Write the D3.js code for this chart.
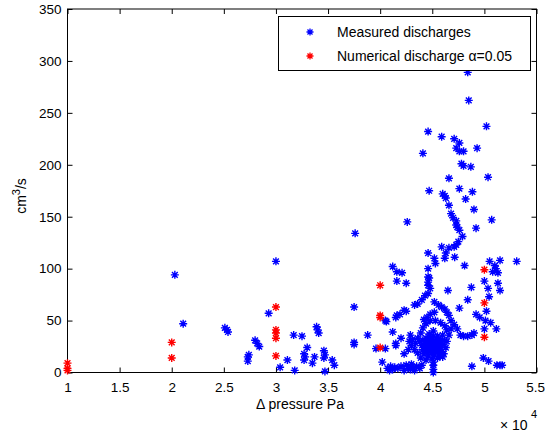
<!DOCTYPE html>
<html>
<head>
<meta charset="utf-8">
<script src="https://cdn.jsdelivr.net/npm/d3@7"></script>
<style>
  body { margin: 0; background: #fff; }
  svg { display: block; }
  text { font-family: "Liberation Sans", Arial, sans-serif; fill: #000; }
</style>
</head>
<body>
<svg id="chart" width="545" height="432"></svg>
<script>
// tick labels (x in units of 10^4 Pa)
const xTicks = [1, 1.5, 2, 2.5, 3, 3.5, 4, 4.5, 5, 5.5];
const yTicks = [0, 50, 100, 150, 200, 250, 300, 350];

// numerical discharge, alpha = 0.05  [pressure x1e4 Pa, cm3/s]
const numerical = [
  [1, 9], [1, 4], [1, 2],
  [2, 29], [2, 14],
  [3, 63], [3, 41], [3, 38], [3, 33], [3, 16],
  [4, 84], [4, 55], [4, 53], [4, 24],
  [5, 99], [5, 67], [5, 34]
];

// measured discharges [pressure x1e4 Pa, cm3/s]
const measured = [
  [2.03, 94], [2.11, 47],
  [2.51, 43], [2.53, 41], [2.54, 39],
  [2.73, 15], [2.73, 11], [2.74, 17],
  [2.80, 31], [2.82, 28], [2.84, 25],
  [2.93, 57], [3.00, 107],
  [3.04, 5], [3.11, 12], [3.18, 2],
  [3.17, 36], [3.25, 35],
  [3.30, 24], [3.27, 18], [3.28, 15], [3.27, 12], [3.35, 9], [3.37, 15],
  [3.39, 44], [3.40, 41], [3.41, 38],
  [3.46, 21], [3.47, 17], [3.46, 14], [3.47, 1],
  [3.54, 12], [3.56, 7],
  [3.75, 29], [3.75, 27], [3.75, 63], [3.76, 134],
  [3.88, 36], [3.96, 23],
  // low strip 4.0 - 4.5
  [4.02, 10], [4.05, 23], [4.05, 50], [4.07, 4], [4.09, 2], [4.10, 6], [4.12, 3],
  [4.14, 5], [4.17, 4], [4.20, 6], [4.23, 2], [4.25, 7], [4.27, 4], [4.29, 3],
  [4.30, 8], [4.32, 5], [4.33, 2], [4.35, 6], [4.38, 4], [4.40, 7],
  [4.51, 0], [4.51, 3], [4.51, 7], [4.51, 10],
  // left cluster near 4.1 - 4.3
  [4.12, 102], [4.16, 97], [4.16, 88], [4.25, 86], [4.26, 145],
  [4.12, 39], [4.15, 53], [4.16, 55], [4.19, 56], [4.23, 60], [4.25, 59],
  [4.06, 49], [4.15, 28], [4.20, 33], [4.23, 18], [4.15, 26],
  [4.33, 65], [4.36, 66], [4.40, 70], [4.43, 74], [4.46, 76], [4.48, 81],
  [4.47, 91], [4.46, 84], [4.65, 79],
  [4.28, 30], [4.30, 26], [4.31, 32], [4.27, 22], [4.29, 36],
  // dense blob 4.35 - 4.7
  [4.38, 30], [4.40, 26], [4.41, 22], [4.42, 18], [4.43, 28], [4.44, 33],
  [4.44, 24], [4.45, 20], [4.46, 16], [4.47, 29], [4.47, 37], [4.48, 23],
  [4.49, 19], [4.50, 32], [4.50, 26], [4.51, 40], [4.51, 22], [4.52, 17],
  [4.53, 30], [4.54, 25], [4.55, 35], [4.55, 20], [4.56, 28], [4.57, 16],
  [4.58, 32], [4.58, 24], [4.59, 20], [4.60, 36], [4.60, 27], [4.61, 18],
  [4.62, 31], [4.63, 24], [4.64, 41], [4.62, 45], [4.58, 48], [4.53, 50],
  [4.48, 50], [4.44, 47], [4.41, 43], [4.39, 38], [4.36, 33], [4.34, 28],
  [4.33, 22], [4.36, 19], [4.39, 14], [4.44, 12], [4.50, 13], [4.55, 14],
  [4.60, 15], [4.64, 30], [4.66, 36], [4.68, 42],
  [4.46, 27], [4.48, 31], [4.50, 28], [4.52, 25], [4.54, 29], [4.49, 24],
  [4.53, 22], [4.57, 30], [4.45, 30], [4.42, 25], [4.56, 23], [4.51, 35],
  [4.47, 34], [4.43, 21], [4.55, 32], [4.59, 26], [4.41, 31], [4.52, 20],
  // arc around the blob
  [4.52, 68], [4.56, 65], [4.59, 63], [4.62, 61], [4.64, 58], [4.66, 55],
  [4.68, 50], [4.71, 46], [4.74, 42], [4.77, 36], [4.80, 35], [4.84, 35],
  [4.88, 36], [4.52, 58], [4.48, 56], [4.45, 53], [4.42, 51],
  // upper branch
  [4.41, 211], [4.46, 232], [4.47, 175], [4.59, 227], [4.60, 172], [4.62, 170],
  [4.63, 168], [4.66, 187], [4.66, 161], [4.68, 153], [4.70, 149], [4.71, 225],
  [4.73, 146], [4.73, 216], [4.76, 221], [4.76, 213], [4.80, 213], [4.76, 177],
  [4.73, 142], [4.74, 140], [4.76, 137], [4.79, 131], [4.75, 126], [4.73, 123],
  [4.71, 121], [4.66, 120], [4.63, 115], [4.62, 110], [4.59, 121], [4.715, 111],
  [4.78, 201], [4.80, 199], [4.87, 198], [4.82, 167], [4.885, 174], [4.84, 289],
  [4.85, 262], [4.90, 157], [4.92, 139], [4.93, 216], [5.02, 237], [5.035, 188],
  [5.07, 147], [4.46, 115], [4.52, 110], [4.53, 105], [4.46, 100], [4.81, 103],
  [4.21, 96], [4.46, 92], [4.46, 87], [4.76, 62],
  // column near 5
  [5.05, 107], [5.10, 103], [5.11, 100], [5.08, 97], [5.13, 96], [5.15, 108],
  [5.31, 107], [5.00, 88], [5.035, 81], [5.045, 73], [5.13, 86], [5.15, 79],
  [4.875, 82], [4.84, 70], [4.955, 53], [5.02, 59], [5.01, 50], [5.06, 48],
  [5.115, 42], [5.00, 42], [4.90, 38], [4.92, 56],
  [4.99, 14], [5.04, 11], [5.12, 7], [5.15, 7], [5.17, 7], [4.88, 6]
];

const svg = d3.select("#chart");
const margin = { left: 67.5, right: 8.5, top: 9, bottom: 59.5 };
const W = 545, H = 432;

const x = d3.scaleLinear().domain([1, 5.5]).range([margin.left, W - margin.right]);
const y = d3.scaleLinear().domain([0, 350]).range([H - margin.bottom, margin.top]);

// matlab-style asterisk marker
function star(r) {
  const d = r * 0.72;
  return `M${-r},0L${r},0M0,${-r}L0,${r}M${-d},${-d}L${d},${d}M${-d},${d}L${d},${-d}`;
}

const fmt = d3.format("~g");

// axes with inward ticks
const gx = svg.append("g").attr("transform", `translate(0,${y(0)})`)
  .call(d3.axisBottom(x).tickValues(xTicks).tickSizeInner(-5).tickSizeOuter(0).tickPadding(10).tickFormat(fmt));
const gxTop = svg.append("g").attr("transform", `translate(0,${y(350)})`)
  .call(d3.axisTop(x).tickValues(xTicks).tickSizeInner(-5).tickSizeOuter(0).tickFormat(""));
const gy = svg.append("g").attr("transform", `translate(${x(1)},0)`)
  .call(d3.axisLeft(y).tickValues(yTicks).tickSizeInner(-5).tickSizeOuter(0).tickPadding(6).tickFormat(fmt));
const gyR = svg.append("g").attr("transform", `translate(${x(5.5)},0)`)
  .call(d3.axisRight(y).tickValues(yTicks).tickSizeInner(-5).tickSizeOuter(0).tickFormat(""));

[gx, gxTop, gy, gyR].forEach(g => {
  g.select(".domain").remove();
  g.selectAll(".tick line").attr("stroke", "#000").attr("stroke-width", 1);
  g.selectAll(".tick text").attr("font-size", 13.5).attr("font-family", "Liberation Sans, Arial, sans-serif").attr("fill", "#000");
});
// last x label sits at the page edge, keep it inside
gx.selectAll(".tick text").filter(d => d === 5.5).attr("text-anchor", "end").attr("dx", 8);

svg.append("rect")
  .attr("x", x(1)).attr("y", y(350))
  .attr("width", x(5.5) - x(1)).attr("height", y(0) - y(350))
  .attr("fill", "none").attr("stroke", "#000").attr("stroke-width", 1);

// points
svg.append("g").selectAll("path")
  .data(measured)
  .join("path")
  .attr("d", star(4))
  .attr("transform", d => `translate(${x(d[0])},${y(d[1])})`)
  .attr("stroke", "#0000ff")
  .attr("stroke-width", 1.4)
  .attr("fill", "none");

svg.append("g").selectAll("path")
  .data(numerical)
  .join("path")
  .attr("d", star(4))
  .attr("transform", d => `translate(${x(d[0])},${y(d[1])})`)
  .attr("stroke", "#ff0000")
  .attr("stroke-width", 1.4)
  .attr("fill", "none");

// labels
svg.append("text")
  .attr("x", 300).attr("y", 409)
  .attr("text-anchor", "middle").attr("font-size", 14)
  .text("\u0394 pressure Pa");

const yl = svg.append("text")
  .attr("transform", "translate(26,196) rotate(-90)")
  .attr("text-anchor", "middle").attr("font-size", 14);
yl.append("tspan").text("cm");
yl.append("tspan").attr("dy", -6).attr("font-size", 11).text("3");
yl.append("tspan").attr("dy", 6).text("/s");

svg.append("text")
  .attr("x", 500).attr("y", 430).attr("font-size", 14)
  .text("\u00d7 10");
svg.append("text")
  .attr("x", 531).attr("y", 418).attr("font-size", 11)
  .text("4");

// legend
const legend = svg.append("g");
legend.append("rect")
  .attr("x", 278.5).attr("y", 16.5).attr("width", 252).attr("height", 54)
  .attr("fill", "#fff").attr("stroke", "#000").attr("stroke-width", 1);
const items = [
  { label: "Measured discharges", color: "#0000ff" },
  { label: "Numerical discharge \u03b1=0.05", color: "#ff0000" }
];
items.forEach((it, i) => {
  const yy = 32 + i * 24;
  legend.append("path")
    .attr("d", star(3.5))
    .attr("transform", `translate(310,${yy})`)
    .attr("stroke", it.color).attr("stroke-width", 1.3).attr("fill", "none");
  legend.append("text")
    .attr("x", 337).attr("y", yy + 5).attr("font-size", 14)
    .text(it.label);
});
</script>
</body>
</html>
